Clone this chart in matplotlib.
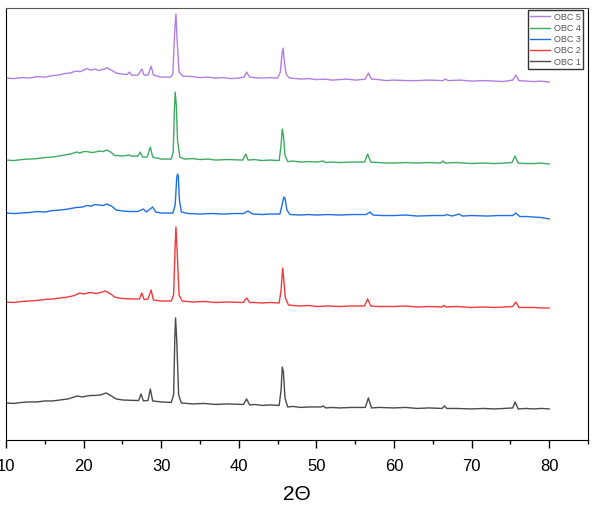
import matplotlib
matplotlib.use("Agg")
import matplotlib.pyplot as plt
from matplotlib.ticker import MultipleLocator

plt.rcParams['font.family'] = ['Liberation Sans', 'DejaVu Sans']

labels = ["OBC 1", "OBC 2", "OBC 3", "OBC 4", "OBC 5"]
colors = ["#4a4a4a", "#ef3b3b", "#1f6fe5", "#3daa62", "#b27fe0"]

# 2-theta positions and stacked intensity (a.u.)
x5 = [10, 11, 12, 13, 14, 15, 16, 16.8, 17.5, 18.2, 19, 19.6, 20.4, 20.9, 21.5, 22.0, 22.3, 22.7, 23.0, 23.3, 23.6,
      24.2, 24.6, 25.0, 25.6, 25.9, 26.2, 27.0, 27.5, 27.8, 28.3, 28.7, 29.0, 30.0, 31.2, 31.5, 31.75, 31.9, 32.05,
      32.3, 32.8, 34, 35, 36, 37, 38, 39, 40, 40.7, 41.0, 41.4, 42, 43, 44, 45.0, 45.35, 45.55, 45.7, 45.85, 46.1,
      46.5, 47.5, 48, 49, 50, 51, 52, 53, 54, 55, 56.3, 56.7, 57.1, 58, 59, 60, 61.5, 63, 64.5, 66.3, 66.6, 67, 68.5,
      70, 71.5, 73, 74, 75.3, 75.7, 76.1, 77, 78, 79, 80]
y5 = [362, 361.5, 362.5, 362, 363.5, 363, 364.5, 365, 366.5, 367, 369, 368.5, 371.5, 370, 371, 369.5, 370.5, 371, 372.5, 371, 370,
      367, 366.5, 366, 365.5, 368, 365, 365, 371, 365, 365, 374, 365, 363, 363, 366, 410, 426, 400,
      368, 364, 363.5, 362.5, 363, 362, 362.5, 361.5, 362, 363, 368, 363, 362.5, 362, 362.5, 362, 368, 385, 392, 380, 366,
      362, 361.5, 361, 361.5, 360.5, 361, 360, 360.5, 361, 360, 361, 367, 361, 360.5, 359.5, 360, 359.5, 359.5, 360, 359.5, 361, 359.5, 360,
      359, 359.5, 359, 358.5, 360, 365, 359.5, 359, 358.5, 359, 358]

x4 = [10, 11, 12, 13, 14, 15, 16, 16.8, 17.5, 18.3, 19.1, 19.5, 20.0, 20.5, 21.0, 21.5, 22.0, 22.5, 23.0, 23.5, 24.0,
      24.5, 25.0, 25.9, 26.1, 27.0, 27.3, 27.6, 28.2, 28.6, 28.9, 30, 31.3, 31.55, 31.7, 31.8, 31.95, 32.1, 32.4, 33,
      34, 35, 36, 37, 38.5, 40.5, 40.9, 41.2, 42, 43, 44, 45.2, 45.45, 45.6, 45.75, 45.95, 46.3, 47, 48, 49, 50, 50.9,
      51.2, 52, 53, 54.5, 56.2, 56.6, 57.0, 58, 59, 60, 61.5, 63, 64.5, 66.0, 66.3, 66.6, 68, 70, 71.5, 73, 74.2,
      75.2, 75.6, 76.0, 77, 78, 79, 80]
y4 = [280, 279.5, 280.5, 281, 281.5, 282.5, 283, 284, 285, 286, 288, 287, 288.5, 288.5, 287.5, 288, 289, 288.5, 290, 288, 284.5,
      284.5, 284, 285, 284, 284, 288, 283, 283, 293, 283, 281, 281, 288, 330, 348, 335, 300, 283, 281,
      281.5, 280.5, 281, 280, 280.5, 280, 286, 280, 280.5, 279.5, 280, 279.5, 295, 311, 305, 285, 278.5, 279, 278, 278.5, 278, 279,
      277.5, 278, 277.5, 278, 278, 286, 278, 277.5, 277, 277, 277.5, 277, 277.5, 277, 279, 277, 277.5, 276.5, 277, 276.5, 277,
      277.5, 284, 277, 276.5, 276.5, 277, 276]

x3 = [10, 11, 12, 13, 14, 15, 16, 17, 18, 19.0, 19.9, 20.4, 21, 21.5, 22, 22.5, 23.0, 23.6, 24.2, 24.7, 25, 26, 27.0,
      27.7, 28.1, 28.9, 29.3, 30, 31.5, 31.8, 32.0, 32.1, 32.2, 32.35, 32.6, 33.5, 35, 36.5, 38, 39.5, 40.6, 41.2,
      41.8, 43, 44, 45.3, 45.6, 45.8, 45.95, 46.2, 46.6, 48, 49, 50, 51.5, 53, 54.5, 56.4, 56.9, 57.3, 58.5, 60,
      61.5, 63, 65, 66.5, 66.8, 67.5, 68.4, 68.8, 70, 72, 73.5, 75.3, 75.7, 76.2, 77, 78, 79, 80]
y3 = [227, 226.5, 227, 227.5, 228.5, 228, 229.5, 230, 231, 232.5, 233, 234.5, 234, 235.5, 235, 234.5, 236, 234, 230, 229.5, 229, 228.5, 228.5,
      231, 228, 233, 228, 227, 227, 235, 262, 266, 264, 240, 228, 226.5, 226, 226.5, 226, 226.5, 226.5, 229,
      226, 225.5, 226, 226, 236, 243, 242, 230, 225.5, 225, 225.5, 225, 225.5, 225, 225.5, 225.5, 228, 225, 224.5, 224.5,
      225, 224, 224.5, 224.5, 225.5, 224, 226, 224, 224.5, 224, 224.5, 224.5, 227, 223.5, 223.5, 223, 222.5, 221]

x2 = [10, 11, 12, 13, 14, 15, 16, 17, 18, 18.8, 19.5, 20.0, 20.5, 21.0, 21.5, 22.2, 22.8, 23.5, 24.0, 24.5, 25, 26.5,
      27.2, 27.5, 27.8, 28.3, 28.7, 29.0, 30, 31.3, 31.6, 31.8, 31.9, 32.05, 32.3, 32.7, 34, 35.5, 37, 38.5, 40.6,
      41.0, 41.4, 42, 43, 44, 45.2, 45.45, 45.65, 45.8, 46.0, 46.4, 47, 48, 49, 50, 51.5, 53, 54.5, 56.2, 56.6, 57.0,
      58, 60, 61.5, 63, 64.5, 66.2, 66.4, 66.7, 68, 70, 71.5, 73, 74.3, 75.3, 75.7, 76.1, 77, 78, 79, 80]
y2 = [138, 137.5, 138.5, 139, 139.5, 140.5, 141, 142, 143, 144.5, 147, 146, 147, 147.5, 146.5, 147.5, 149, 146, 143, 142, 141.5, 141,
      141, 147, 140.5, 141, 150, 140, 139, 139, 145, 195, 213, 190, 145, 139, 138, 138.5, 137.5, 138, 137.5,
      142, 137.5, 137.5, 137, 137.5, 137, 150, 172, 160, 142, 135, 134.5, 134, 134.5, 133.5, 134, 133.5, 134, 134, 141, 134,
      133.5, 133.5, 134, 133, 133.5, 133, 134.5, 133, 133.5, 132.5, 133, 132.5, 133, 133.5, 138, 132.5, 132.5, 132.5, 132, 132]

x1 = [10, 11, 12, 13, 14, 15, 16, 17, 18, 19.2, 19.8, 20.5, 21.0, 21.5, 22.2, 22.9, 23.6, 24.2, 25, 26.5, 27.1,
      27.4, 27.7, 28.3, 28.6, 28.9, 30, 31.3, 31.6, 31.75, 31.85, 32.0, 32.25, 32.6, 34, 35.5, 37, 38.5, 40.6, 41.0,
      41.4, 42, 43, 44, 45.2, 45.45, 45.6, 45.75, 45.95, 46.3, 47, 48, 49, 50.6, 50.9, 51.2, 52, 53, 54.5, 56.3, 56.7,
      57.1, 58, 60, 61.5, 63, 64.5, 66.2, 66.5, 66.8, 68, 70, 71.5, 73, 74.2, 75.3, 75.6, 76.0, 77, 78, 79, 80]
y1 = [37, 36.5, 37.5, 38, 38, 39, 39, 40, 41, 44, 43, 44, 44.5, 44.5, 45, 47, 44, 41, 40, 39.5, 39.5,
      46, 39, 39.5, 51, 39, 38, 37.5, 45, 100, 122, 100, 45, 37, 36, 36.5, 35.5, 36, 35.5, 41,
      35, 35.5, 34.5, 35, 34.5, 50, 73, 68, 42, 33, 33.5, 32.5, 33, 33, 34, 32, 32.5, 32, 32.5, 32.5, 42,
      32, 32.5, 32, 32.5, 31.5, 32, 31.5, 34, 31.5, 31.5, 31, 31.5, 31, 31.5, 32, 38, 31, 31.5, 31, 31.5, 31]

xs = [x1, x2, x3, x4, x5]
ys = [y1, y2, y3, y4, y5]

fig = plt.figure(figsize=(6.0, 5.08), dpi=100)
ax = fig.add_axes([0.01, 0.134, 0.97, 0.850])

lines = []
for x, y, c, lab in zip(xs, ys, colors, labels):
    ln, = ax.plot(x, y, color=c, lw=1.0, label=lab)
    lines.append(ln)

ax.set_xlim(10, 85)
ax.set_ylim(0, 432)
ax.xaxis.set_major_locator(MultipleLocator(10))
ax.xaxis.set_minor_locator(MultipleLocator(5))
ax.tick_params(axis='x', which='major', direction='out', length=6, width=1, labelsize=12, pad=8)
ax.tick_params(axis='x', which='minor', direction='out', length=3, width=1)
ax.set_yticks([])
for s in ['left', 'right', 'bottom']:
    ax.spines[s].set_color('black')
ax.spines['top'].set_color('#555555')
ax.set_xlabel('2Θ', fontsize=15, labelpad=8)

leg = ax.legend(lines[::-1], labels[::-1], loc='upper right', bbox_to_anchor=(0.992, 0.996),
                borderaxespad=0, fontsize=6.5, frameon=True, fancybox=False,
                handlelength=2.2, handletextpad=0.4, labelspacing=0.25, borderpad=0.3)
leg.get_frame().set_edgecolor('black')
leg.get_frame().set_linewidth(1.0)
for t in leg.get_texts():
    t.set_color('#555555')

fig.savefig('out.png', dpi=100)
